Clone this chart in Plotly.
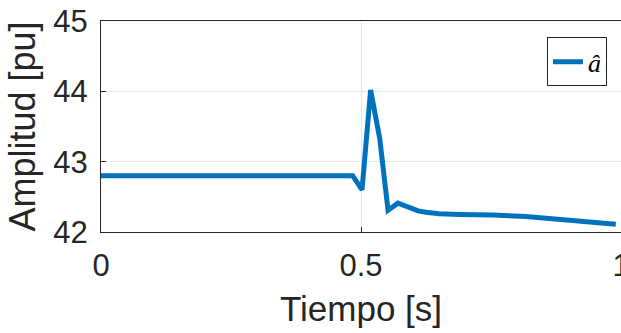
import plotly.graph_objects as go

t = [0.0, 0.1, 0.2, 0.3, 0.4, 0.484, 0.502, 0.5185, 0.536, 0.552, 0.571, 0.59, 0.61, 0.625, 0.65, 0.689, 0.72, 0.753, 0.817, 0.881, 0.94, 0.99]
a_hat = [42.80, 42.80, 42.80, 42.80, 42.80, 42.80, 42.60, 44.02, 43.33, 42.31, 42.41, 42.35, 42.30, 42.28, 42.26, 42.25, 42.25, 42.24, 42.22, 42.18, 42.14, 42.11]

x_ticks = [0, 0.5, 1]
x_tick_text = ["0", "0.5", "1"]
y_ticks = [42, 43, 44, 45]
y_tick_text = ["42", "43", "44", "45"]

fig = go.Figure()
fig.add_trace(go.Scatter(
    x=t, y=a_hat, mode="lines", name="<i>â</i>",
    line=dict(color="#0072BD", width=5),
))

axis_common = dict(
    showline=True, linecolor="#262626", linewidth=1, mirror=True,
    showgrid=True, gridcolor="#E6E6E6", gridwidth=1,
    ticks="inside", ticklen=5, tickcolor="#262626",
    tickfont=dict(family="Liberation Sans, Arial", size=31, color="#262626"),
    zeroline=False,
    ticklabeloverflow="allow",
    automargin=False,
)

fig.update_xaxes(
    range=[0, 1], tickvals=x_ticks, ticktext=x_tick_text,
    title=dict(text="Tiempo [s]", font=dict(family="Liberation Sans, Arial", size=35, color="#262626"), standoff=14),
    ticklabelstandoff=6,
    **axis_common,
)
fig.update_yaxes(
    range=[42, 45], tickvals=y_ticks, ticktext=y_tick_text,
    title=dict(text="Amplitud [pu]", font=dict(family="Liberation Sans, Arial", size=36, color="#262626"), standoff=6),
    ticklabelstandoff=6,
    **axis_common,
)

fig.update_layout(
    width=621, height=333,
    margin=dict(l=101, r=0, t=21, b=101, autoexpand=False),
    plot_bgcolor="white", paper_bgcolor="white",
    showlegend=True,
    legend=dict(
        x=0.973, y=0.923, xanchor="right", yanchor="top",
        bgcolor="white", bordercolor="#262626", borderwidth=1,
        font=dict(family="Liberation Serif, DejaVu Serif", size=26, color="#000000"),
    ),
)

fig.write_html("out.html")
